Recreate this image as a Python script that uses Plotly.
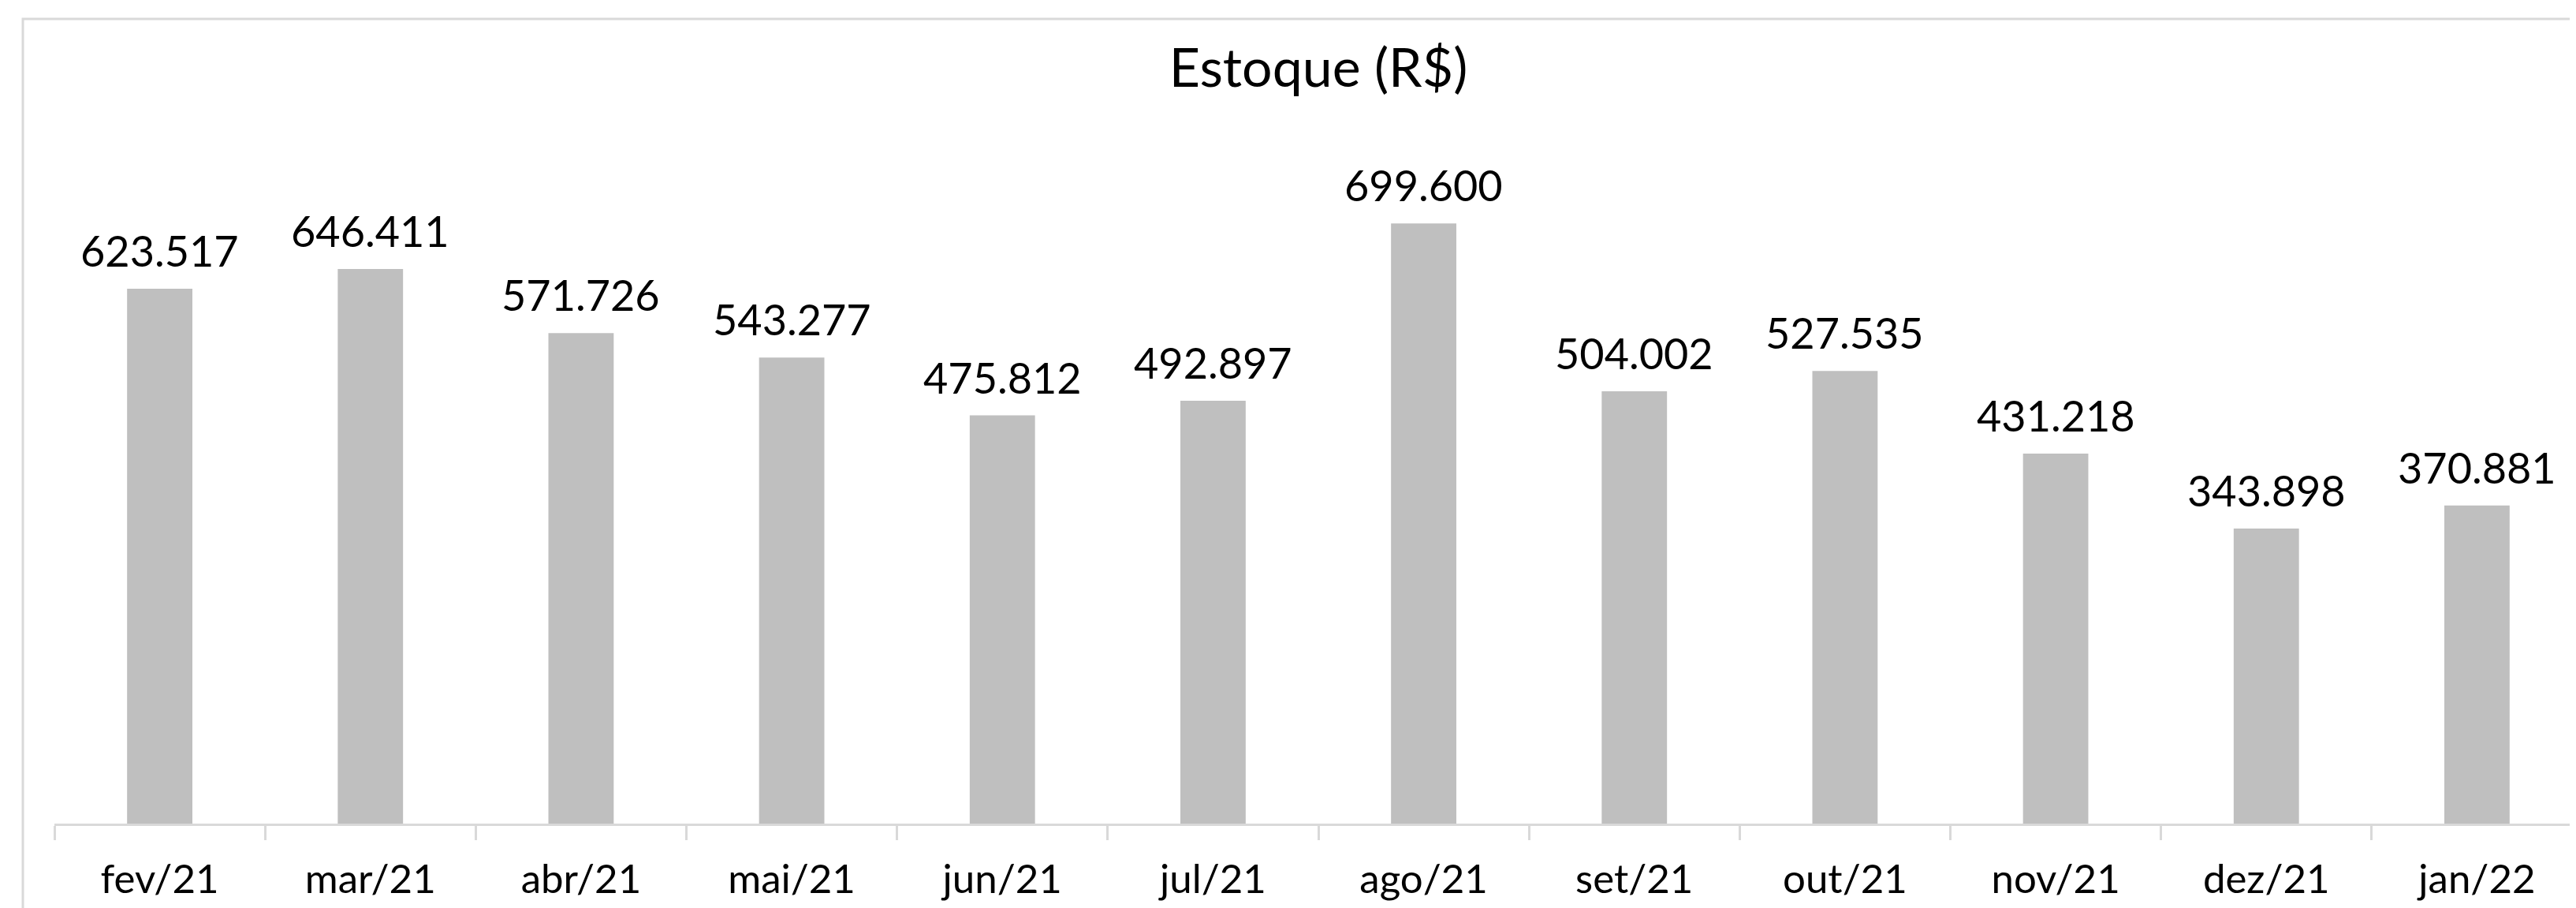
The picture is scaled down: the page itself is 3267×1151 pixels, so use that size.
import plotly.graph_objects as go

categories = ["fev/21", "mar/21", "abr/21", "mai/21", "jun/21", "jul/21",
              "ago/21", "set/21", "out/21", "nov/21", "dez/21", "jan/22"]
values = [623517, 646411, 571726, 543277, 475812, 492897,
          699600, 504002, 527535, 431218, 343898, 370881]
labels = [f"{v:,}".replace(",", ".") for v in values]
title_text = "Estoque (R$)"

W, H = 3267, 1151
L, R, T, B = 61, 0, 166, 115
pw = W - L - R
ph = H - T - B

fig = go.Figure(go.Bar(
    x=categories, y=values,
    marker=dict(color="#BFBFBF", line=dict(width=0)),
    cliponaxis=False,
))

for c, v, t in zip(categories, values, labels):
    fig.add_annotation(x=c, y=v, text=t, showarrow=False, xanchor="center",
                       yanchor="bottom", yshift=14,
                       font=dict(size=54, color="#000000", family="Lato"))

fig.update_layout(
    width=W, height=H,
    margin=dict(l=L, r=R, t=T, b=B),
    paper_bgcolor="white", plot_bgcolor="white",
    bargap=0.69,
    showlegend=False,
    font=dict(family="Lato", color="#000000"),
    title=dict(text=title_text, x=0.5, xref="paper", y=1 - 78 / H, yref="container",
               xanchor="center", yanchor="middle",
               font=dict(size=68, color="#000000", family="Lato")),
    xaxis=dict(showline=True, linecolor="#D9D9D9", linewidth=3,
               ticks="outside", ticklen=18, tickwidth=3, tickcolor="#D9D9D9",
               tickson="boundaries", showgrid=False, zeroline=False,
               tickfont=dict(size=51, color="#000000", family="Lato"),
               ticklabelstandoff=24),
    yaxis=dict(visible=False, range=[0, 800000]),
    shapes=[dict(type="rect", xref="paper", yref="paper",
                 x0=(21 - L) / pw, x1=1.05, y0=-0.5, y1=(H - B - 16) / ph,
                 line=dict(color="#D9D9D9", width=3), layer="below")],
)

fig.write_html("out.html")
